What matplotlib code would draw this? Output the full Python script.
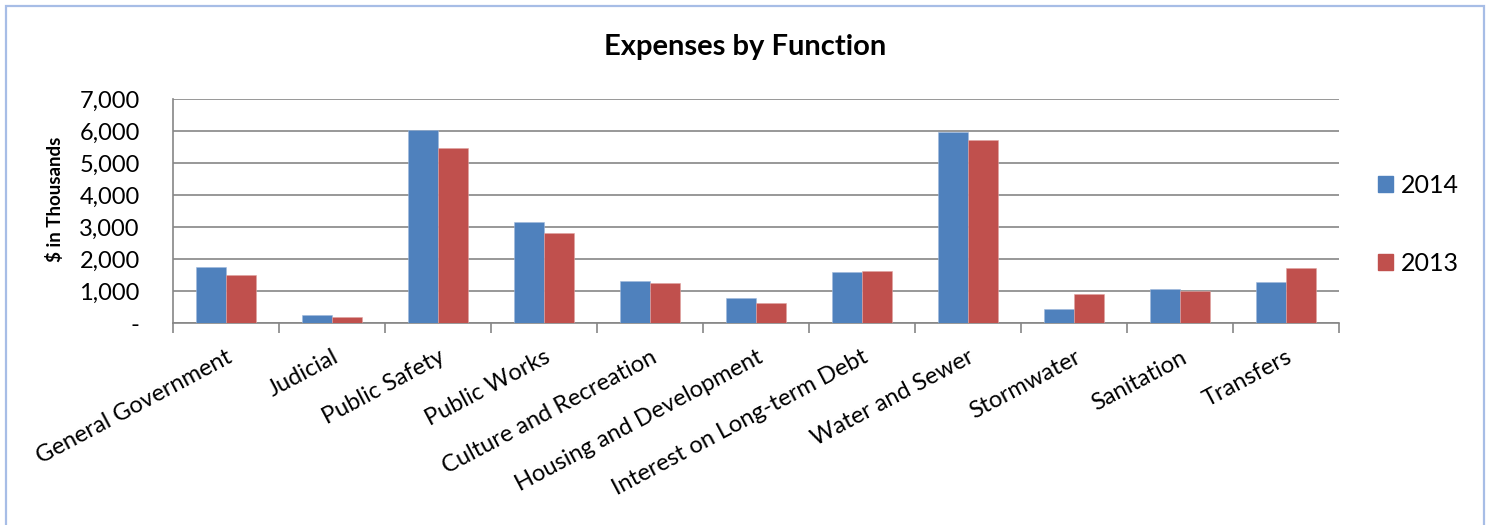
import numpy as np
import matplotlib
matplotlib.use("Agg")
import matplotlib.pyplot as plt
from matplotlib.patches import Rectangle, Patch
from matplotlib.ticker import FuncFormatter, FixedLocator

plt.rcParams["font.family"] = ["Lato", "DejaVu Sans"]

categories = [
    "General Government", "Judicial", "Public Safety", "Public Works",
    "Culture and Recreation", "Housing and Development",
    "Interest on Long-term Debt", "Water and Sewer", "Stormwater",
    "Sanitation", "Transfers",
]
values_2014 = [1740, 240, 6030, 3170, 1300, 780, 1590, 5980, 450, 1050, 1280]
values_2013 = [1500, 190, 5480, 2800, 1250, 620, 1610, 5720, 920, 990, 1710]
series_labels = ["2014", "2013"]
yticks = [0, 1000, 2000, 3000, 4000, 5000, 6000, 7000]

BLUE = "#4F81BD"
RED = "#C0504D"
GRID = "#868686"

W, H = 1488, 525
fig = plt.figure(figsize=(W / 100, H / 100), dpi=100)
ax = fig.add_axes([173 / W, 1 - 323 / H, (1339 - 173) / W, (323 - 99) / H])

x = np.arange(len(categories))
bw = 0.286
ax.bar(x - bw / 2, values_2014, bw, color=BLUE, edgecolor="#9fb9dc", linewidth=0.4, zorder=3)
ax.bar(x + bw / 2, values_2013, bw, color=RED, edgecolor="#e0a3a1", linewidth=0.4, zorder=3)

ax.set_xlim(-0.5, len(categories) - 0.5)
ax.set_ylim(0, 7000)
ax.set_yticks(yticks)
ax.yaxis.set_major_formatter(FuncFormatter(lambda v, p: "-" if v == 0 else f"{int(v):,}"))
ax.tick_params(axis="y", length=0, pad=24, labelsize=17)
ax.yaxis.grid(True, color=GRID, linewidth=1.2)
ax.set_axisbelow(True)

# category boundaries carry the tick marks, centres carry the labels
ax.xaxis.set_major_locator(FixedLocator(np.arange(len(categories) + 1) - 0.5))
ax.xaxis.set_major_formatter(FuncFormatter(lambda v, p: ""))
ax.xaxis.set_minor_locator(FixedLocator(x))
ax.set_xticklabels(categories, minor=True, rotation=28, ha="right", va="top",
                   rotation_mode="anchor", fontsize=17)
ax.tick_params(axis="x", which="major", length=7, width=1.2, color=GRID, direction="out")
ax.tick_params(axis="x", which="minor", length=0, pad=17)

for s in ["top", "right"]:
    ax.spines[s].set_visible(False)
for s in ["left", "bottom"]:
    ax.spines[s].set_color(GRID)
    ax.spines[s].set_linewidth(1.2)

fig.text(745 / W, 1 - 47 / H, "Expenses by Function", ha="center", va="center",
         fontsize=21, fontweight="bold")
fig.text(55 / W, 1 - 199 / H, "$ in Thousands", ha="center", va="center",
         rotation=90, fontsize=13.5, fontweight="bold")

handles = [Patch(color=BLUE), Patch(color=RED)]
fig.legend(handles, series_labels, loc="upper left", bbox_to_anchor=(1378 / W, 1 - 174 / H),
           frameon=False, fontsize=18, handlelength=0.6, handleheight=0.6,
           handletextpad=0.3, labelspacing=2.2, borderaxespad=0, borderpad=0)

fig.patches.append(Rectangle((6 / W, -0.05), (1484 - 6) / W, 1.05 - 6 / H,
                             transform=fig.transFigure, fill=False,
                             edgecolor="#A7BDE6", linewidth=1.6))

fig.savefig("out.png", dpi=100)
